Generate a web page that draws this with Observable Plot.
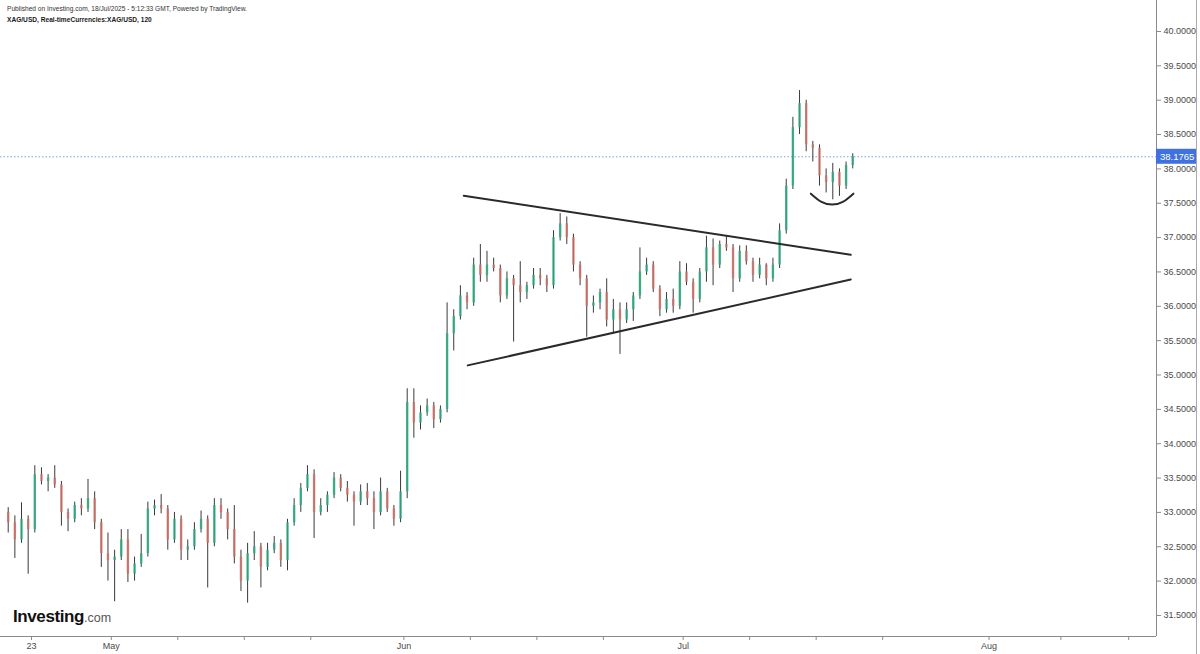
<!DOCTYPE html>
<html><head><meta charset="utf-8">
<script src="https://cdn.jsdelivr.net/npm/d3@7"></script>
<script src="https://cdn.jsdelivr.net/npm/@observablehq/plot@0.6"></script>
<style>
html,body{margin:0;padding:0;background:#fff;}
#wrap{position:relative;width:1200px;height:654px;overflow:hidden;font-family:"Liberation Sans",Arial,sans-serif;}
#chart svg{display:block}
#hdr{position:absolute;left:7px;top:3px;font-size:6.6px;color:#333;line-height:11px;white-space:nowrap}
#hdr .b{font-weight:bold;color:#1a1a1a}
#logo{position:absolute;left:13px;top:607px;white-space:nowrap;line-height:20px}
#logo .a{font-size:17px;font-weight:bold;color:#111;letter-spacing:-0.4px}
#logo .c{font-size:12.5px;color:#555}
#edge{position:absolute;left:1196px;top:0;width:1px;height:654px;background:#aaa}
</style></head><body>
<div id="wrap"><div id="chart"></div>
<div id="hdr"><div>Published on Investing.com, 18/Jul/2025 - 5:12:33 GMT, Powered by TradingView.</div><div class="b">XAG/USD, Real-timeCurrencies:XAG/USD, 120</div></div>
<div id="logo"><span class="a">Investing</span><span class="c">.com</span></div>
<div id="edge"></div>
</div>
<script>
// XAG/USD half-day bars, time in trading-day index (0 = 23 Apr)
const firstBar = -1.75, barStep = 0.5;
const open = [33.0,32.85,32.6,32.9,32.75,33.55,33.45,33.5,33.4,33.0,
32.9,33.1,33.05,33.2,32.85,32.4,32.3,32.35,32.6,32.1,
32.25,32.4,33.05,33.1,33.05,32.6,32.9,32.45,32.5,32.75,
32.9,32.55,33.1,33.0,32.75,32.35,32.0,32.4,32.5,32.2,
32.45,32.55,32.3,32.85,33.1,33.35,33.55,33.0,33.1,33.25,
33.5,33.35,33.25,33.15,33.3,33.2,33.0,33.3,33.05,32.9,
33.3,34.6,34.3,34.45,34.55,34.35,34.5,35.6,35.85,36.15,
36.05,36.6,36.45,36.6,36.55,36.15,36.4,36.3,36.2,36.3,
36.45,36.4,36.3,37.0,37.2,37.0,36.6,36.4,36.0,36.05,
36.2,35.8,35.95,35.8,35.95,36.15,36.5,36.6,36.25,35.95,
36.1,36.0,36.5,36.35,36.1,36.5,36.85,36.6,36.9,36.85,
36.4,36.8,36.65,36.45,36.6,36.4,36.6,37.1,37.75,38.6,
38.95,38.35,38.3,37.9,37.8,37.95,37.75,38.05];
const high = [33.07,32.95,33.14,32.95,33.68,33.65,33.55,33.68,33.45,33.05,
33.15,33.2,33.48,33.3,32.9,32.7,32.45,32.75,32.75,32.35,
32.68,33.15,33.18,33.26,33.1,33.0,32.95,32.6,32.85,33.02,
32.95,33.2,33.2,33.05,33.1,32.45,32.55,32.72,32.55,32.55,
32.65,32.6,32.9,33.2,33.42,33.68,33.62,33.2,33.3,33.58,
33.55,33.45,33.3,33.4,33.42,33.3,33.5,33.35,33.1,33.6,
34.8,34.8,34.55,34.65,34.6,34.55,36.05,35.95,36.3,36.2,
36.7,36.9,36.8,36.7,36.6,36.5,36.45,36.65,36.35,36.55,
36.55,36.45,37.1,37.35,37.3,37.05,36.65,36.45,36.15,36.25,
36.4,36.1,36.05,36.05,36.2,36.85,36.7,36.65,36.3,36.2,
36.25,36.65,36.62,36.4,36.55,37.02,36.98,36.95,37.02,36.9,
36.88,36.88,36.7,36.7,36.62,36.7,37.2,37.85,38.75,39.14,
39.0,38.4,38.35,38.0,38.08,38.0,38.1,38.22];
const low = [32.7,32.33,32.55,32.1,32.7,33.4,33.3,33.35,32.8,32.72,
32.85,32.95,33.0,32.75,32.2,32.0,31.7,32.3,31.98,32.0,
32.2,32.35,32.95,32.98,32.45,32.55,32.3,32.3,32.45,32.7,
31.9,32.5,32.9,32.6,32.25,31.85,31.68,32.3,31.9,32.15,
32.4,32.2,32.15,32.8,33.0,33.3,32.62,32.95,33.0,33.2,
33.3,33.15,32.8,33.1,33.1,32.75,32.95,33.0,32.8,32.85,
33.2,34.08,34.2,34.4,34.22,34.3,34.45,35.35,35.8,35.95,
36.0,36.35,36.35,36.5,36.05,36.1,35.48,36.05,36.1,36.25,
36.3,36.2,36.25,36.95,36.9,36.5,36.3,35.55,35.9,35.95,
35.7,35.6,35.3,35.75,35.78,36.1,36.45,36.2,35.85,35.9,
35.9,35.95,36.3,35.9,36.05,36.35,36.3,36.55,36.8,36.2,
36.35,36.6,36.35,36.4,36.3,36.35,36.55,37.05,37.7,38.5,
38.25,38.1,37.75,37.65,37.55,37.6,37.7,38.0];
const close = [32.85,32.6,32.9,32.75,33.55,33.45,33.5,33.4,33.0,32.9,
33.1,33.05,33.2,32.85,32.4,32.3,32.35,32.6,32.1,32.25,
32.4,33.05,33.1,33.05,32.6,32.9,32.45,32.5,32.75,32.9,
32.55,33.1,33.0,32.75,32.35,32.0,32.4,32.5,32.2,32.45,
32.55,32.3,32.85,33.1,33.35,33.55,33.0,33.1,33.25,33.5,
33.35,33.25,33.15,33.3,33.2,33.0,33.3,33.05,32.9,33.3,
34.6,34.3,34.45,34.55,34.35,34.5,35.6,35.85,36.15,36.05,
36.6,36.45,36.6,36.55,36.15,36.4,36.3,36.2,36.3,36.45,
36.4,36.3,37.0,37.2,37.0,36.6,36.4,36.0,36.05,36.2,
35.8,35.95,35.8,35.95,36.15,36.5,36.6,36.25,35.95,36.1,
36.0,36.5,36.35,36.1,36.5,36.85,36.6,36.9,36.85,36.4,
36.8,36.65,36.45,36.6,36.4,36.6,37.1,37.75,38.6,38.95,
38.35,38.3,37.9,37.8,37.95,37.75,38.05,38.1765];
const lastPrice = 38.1765;

// hand-drawn annotations (day index, price)
const upperTrendT = [32.5, 61.6], upperTrendP = [37.61, 36.75];
const lowerTrendT = [32.8, 61.6], lowerTrendP = [35.14, 36.39];
const arcT = [58.6, 59.4, 60.2, 61.0, 61.8], arcP = [37.64, 37.52, 37.48, 37.52, 37.64];

// axes
const xDomain = [-2.33, 84.59];
const yDomain = [31.194, 40.451];
const xTickPos = [0, 6, 11, 16, 21, 28, 33, 38, 43, 49, 54, 59, 64, 72, 77.4, 82.5];
const xTickLabel = ["23","May","","","","Jun","","","","Jul","","","","Aug","",""];
const yTicks = [31.5,32,32.5,33,33.5,34,34.5,35,35.5,36,36.5,37,37.5,38,38.5,39,39.5,40];

const upColor = "#45bd92", downColor = "#e5837a";

const bars = close.map((c, i) => ({t: firstBar + i * barStep, open: open[i], high: high[i], low: low[i], close: c}));
const toPts = (T, P) => T.map((t, i) => ({t, p: P[i]}));

const chart = Plot.plot({
  width: 1200, height: 654,
  marginLeft: 0, marginRight: 44, marginTop: 0, marginBottom: 18,
  style: {fontFamily: "'Liberation Sans', Arial, sans-serif", fontSize: "9px", color: "#4a4a4a", background: "#fff", overflow: "visible"},
  x: {type: "linear", domain: xDomain, label: null},
  y: {type: "linear", domain: yDomain, label: null},
  marks: [
    Plot.ruleY([lastPrice], {stroke: "#7fa3e3", strokeWidth: 1, strokeDasharray: "1.5,2"}),
    Plot.ruleX(bars, {x: "t", y1: "low", y2: "high", stroke: "#3a3a3a", strokeWidth: 1}),
    Plot.ruleX(bars, {x: "t", y1: "open", y2: "close", stroke: d => d.close >= d.open ? upColor : downColor, strokeWidth: 2.4}),
    Plot.ruleX(bars, {x: "t", y1: "open", y2: "close", stroke: "#2f4f43", strokeWidth: 0.6, strokeOpacity: 0.6}),
    Plot.line(toPts(upperTrendT, upperTrendP), {x: "t", y: "p", stroke: "#2a2a2a", strokeWidth: 2}),
    Plot.line(toPts(lowerTrendT, lowerTrendP), {x: "t", y: "p", stroke: "#2a2a2a", strokeWidth: 2}),
    Plot.line(toPts(arcT, arcP), {x: "t", y: "p", stroke: "#2a2a2a", strokeWidth: 2, curve: "natural"}),
    Plot.ruleX([xDomain[1]], {stroke: "#8a8a8a", strokeWidth: 1}),
    Plot.ruleY([yDomain[0]], {stroke: "#8a8a8a", strokeWidth: 1}),
    Plot.axisY({anchor: "right", label: null, ticks: yTicks, tickFormat: d => d.toFixed(4), tickSize: 4, tickPadding: 3, stroke: "#8a8a8a", fill: "#4a4a4a"}),
    Plot.axisX({anchor: "bottom", label: null, ticks: xTickPos, tickFormat: d => xTickLabel[xTickPos.indexOf(d)], tickSize: 4, tickPadding: 2, stroke: "#8a8a8a", fill: "#4a4a4a"})
  ]
});
document.getElementById("chart").appendChild(chart);

// current price tag on the price axis
const yPos = chart.scale("y").apply(lastPrice);
const xPos = chart.scale("x").apply(xDomain[1]);
const svg = d3.select(chart);
svg.append("rect").attr("x", xPos).attr("y", yPos - 7.5).attr("width", 40).attr("height", 15).attr("fill", "#3f72e0");
svg.append("text").attr("x", xPos + 4).attr("y", yPos).attr("dy", "0.35em").attr("fill", "#fff")
  .attr("text-anchor", "start").attr("font-size", "9.5px")
  .attr("font-family", "'Liberation Sans', Arial, sans-serif").text(lastPrice.toFixed(4));
</script>
</body></html>
